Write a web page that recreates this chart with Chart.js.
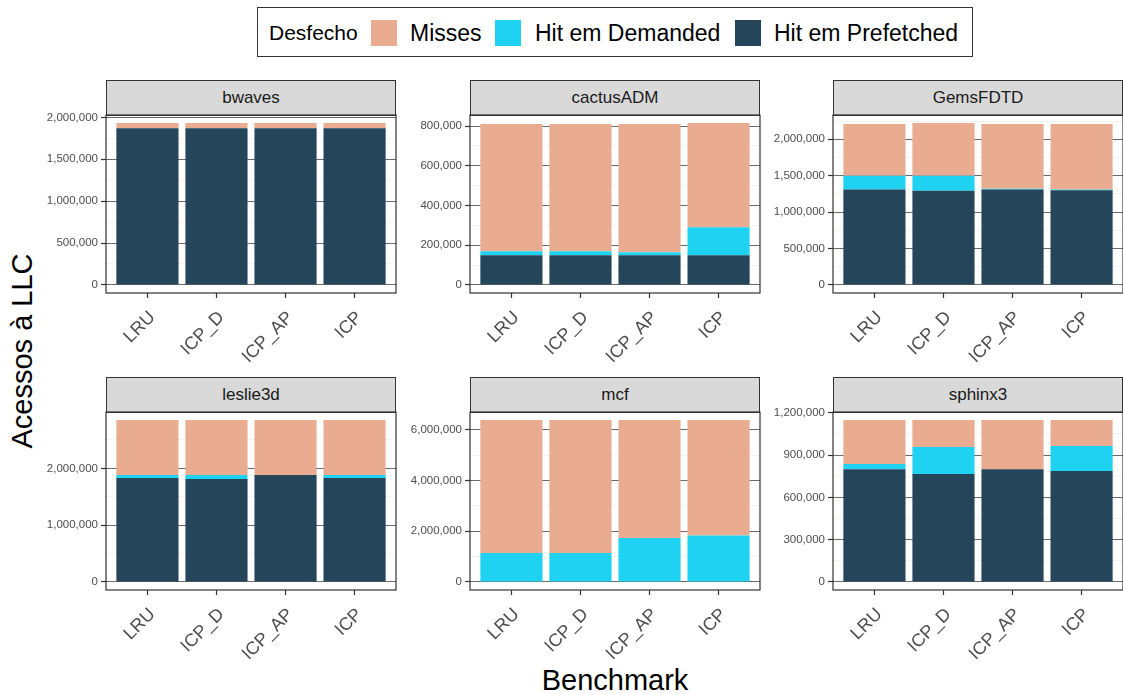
<!DOCTYPE html>
<html>
<head>
<meta charset="utf-8">
<script src="https://cdn.jsdelivr.net/npm/chart.js@4"></script>
<style>
  body { margin: 0; width: 1123px; height: 695px; overflow: hidden; background: #fff;
         font-family: "Liberation Sans", Arial, sans-serif; position: relative; }
  canvas { position: absolute; }
  .faixa { position: absolute; box-sizing: border-box; background: #d9d9d9; border: 1.2px solid #333;
           color: #1a1a1a; font-size: 17px; display: flex; align-items: center; justify-content: center; }
  .legenda { position: absolute; left: 257px; top: 7px; width: 716px; height: 50px; box-sizing: border-box;
             border: 1.2px solid #333; }
  .legenda span { position: absolute; top: 12px; font-size: 23px; color: #000; line-height: 26px; }
  .legenda i { position: absolute; top: 12px; width: 26px; height: 26px; }
  .titulo { position: absolute; font-size: 29px; color: #000; white-space: nowrap; }
</style>
</head>
<body>

<div class="legenda">
  <span style="left:11px;font-size:21px">Desfecho</span>
  <i style="left:113px;background:#e9ac90"></i><span style="left:152px">Misses</span>
  <i style="left:237px;background:#1fd2f1"></i><span style="left:277px">Hit em Demanded</span>
  <i style="left:477px;background:#25455a"></i><span style="left:516px">Hit em Prefetched</span>
</div>
<div class="titulo" style="left:22px;top:351px;transform:translate(-50%,-50%) rotate(-90deg)">Acessos à LLC</div>
<div class="titulo" style="left:615px;top:664px;transform:translateX(-50%)">Benchmark</div>

<script>
// dados
var politicas  = ['LRU', 'ICP_D', 'ICP_AP', 'ICP'];
var benchmarks = ['bwaves', 'cactusADM', 'GemsFDTD', 'leslie3d', 'mcf', 'sphinx3'];

var hitPrefetched = [
  [1870000, 1870000, 1870000, 1870000],
  [150000, 150000, 150000, 150000],
  [1310000, 1295000, 1310000, 1300000],
  [1830000, 1812000, 1883000, 1830000],
  [0, 0, 0, 0],
  [800000, 765000, 800000, 787000]
];
var hitDemanded = [
  [3000, 3000, 3000, 3000],
  [20000, 20000, 15000, 140000],
  [190000, 205000, 12000, 10000],
  [53000, 71000, 0, 53000],
  [1145000, 1145000, 1737000, 1830000],
  [36000, 192000, 0, 177000]
];
var misses = [
  [59000, 59000, 59000, 59000],
  [640000, 640000, 645000, 525000],
  [709000, 723000, 888000, 900000],
  [967000, 967000, 967000, 967000],
  [5245000, 5245000, 4653000, 4560000],
  [312000, 191000, 348000, 184000]
];
// espaçamento das marcas do eixo y em cada painel
var passoY = [500000, 200000, 500000, 1000000, 2000000, 300000];

var cores = { misses: '#e9ac90', demanded: '#1fd2f1', prefetched: '#25455a' };

Chart.defaults.font.family = '"Liberation Sans", Arial, sans-serif';

// posição dos painéis
var colunas = [106, 470, 833];
var linhas  = [{ faixa: 80, topo: 115 }, { faixa: 377, topo: 412 }];
var largura = 290, altura = 178;
var margemEsq = 80, margemTopo = 10, margemDir = 10, margemBaixo = 80;

var bordaPainel = {
  id: 'bordaPainel',
  afterDraw: function(chart) {
    var a = chart.chartArea, c = chart.ctx;
    c.save();
    c.strokeStyle = '#333';
    c.lineWidth = 1.2;
    c.strokeRect(a.left, a.top, a.right - a.left, a.bottom - a.top);
    c.restore();
  }
};

benchmarks.forEach(function(nome, b) {
  var col = colunas[b % 3], lin = linhas[Math.floor(b / 3)];

  var faixa = document.createElement('div');
  faixa.className = 'faixa';
  faixa.style.left = col + 'px';
  faixa.style.top = lin.faixa + 'px';
  faixa.style.width = largura + 'px';
  faixa.style.height = (lin.topo - lin.faixa + 1) + 'px';
  faixa.textContent = nome;
  document.body.appendChild(faixa);

  var canvas = document.createElement('canvas');
  canvas.width = margemEsq + largura + margemDir;
  canvas.height = margemTopo + altura + margemBaixo;
  canvas.style.left = (col - margemEsq) + 'px';
  canvas.style.top = (lin.topo - margemTopo) + 'px';
  document.body.appendChild(canvas);

  var totais = politicas.map(function(p, i) {
    return hitPrefetched[b][i] + hitDemanded[b][i] + misses[b][i];
  });
  var maximo = Math.max.apply(null, totais);
  var passo = passoY[b];

  function serie(valores) {
    return valores.map(function(v, i) { return { x: i + 1, y: v }; });
  }

  new Chart(canvas.getContext('2d'), {
    type: 'bar',
    data: {
      datasets: [
        { label: 'Hit em Prefetched', data: serie(hitPrefetched[b]), backgroundColor: cores.prefetched },
        { label: 'Hit em Demanded', data: serie(hitDemanded[b]), backgroundColor: cores.demanded },
        { label: 'Misses', data: serie(misses[b]), backgroundColor: cores.misses }
      ]
    },
    options: {
      responsive: false,
      animation: false,
      layout: { padding: { top: margemTopo, right: margemDir, left: 0, bottom: 0 } },
      plugins: { legend: { display: false }, tooltip: { enabled: false } },
      datasets: { bar: { categoryPercentage: 0.9, barPercentage: 1, borderWidth: 0 } },
      scales: {
        x: {
          type: 'linear', stacked: true, min: 0.4, max: 4.6, offset: false,
          afterBuildTicks: function(s) { s.ticks = politicas.map(function(p, i) { return { value: i + 1 }; }); },
          afterFit: function(s) { s.height = margemBaixo; },
          border: { display: false },
          grid: { offset: false, drawOnChartArea: false, drawTicks: true, tickLength: 5, tickColor: '#333', tickWidth: 1.2 },
          ticks: {
            autoSkip: false, minRotation: 45, maxRotation: 45, padding: 9, labelOffset: 5,
            color: '#4d4d4d', font: { size: 18 },
            callback: function(v) { return politicas[v - 1]; }
          }
        },
        y: {
          stacked: true, min: -0.05 * maximo, max: 1.05 * maximo,
          afterBuildTicks: function(s) {
            var t = [];
            for (var v = 0; v <= s.max; v += passo / 2) t.push({ value: v });
            s.ticks = t;
          },
          afterFit: function(s) { s.width = margemEsq; },
          border: { display: false },
          grid: {
            tickLength: 5,
            color: function(ctx) { return ctx.tick && ctx.tick.value % passo === 0 ? '#2a2a2a' : '#ebebeb'; },
            lineWidth: function(ctx) { return ctx.tick && ctx.tick.value % passo === 0 ? 0.7 : 0.6; },
            tickColor: function(ctx) { return ctx.tick && ctx.tick.value % passo === 0 ? '#333' : 'rgba(0,0,0,0)'; },
            tickWidth: 1.2
          },
          ticks: {
            autoSkip: false, padding: 3, color: '#4d4d4d', font: { size: 11.5 },
            callback: function(v) { return v % passo === 0 ? v.toLocaleString('en-US') : ''; }
          }
        }
      }
    },
    plugins: [bordaPainel]
  });
});
</script>
</body>
</html>
